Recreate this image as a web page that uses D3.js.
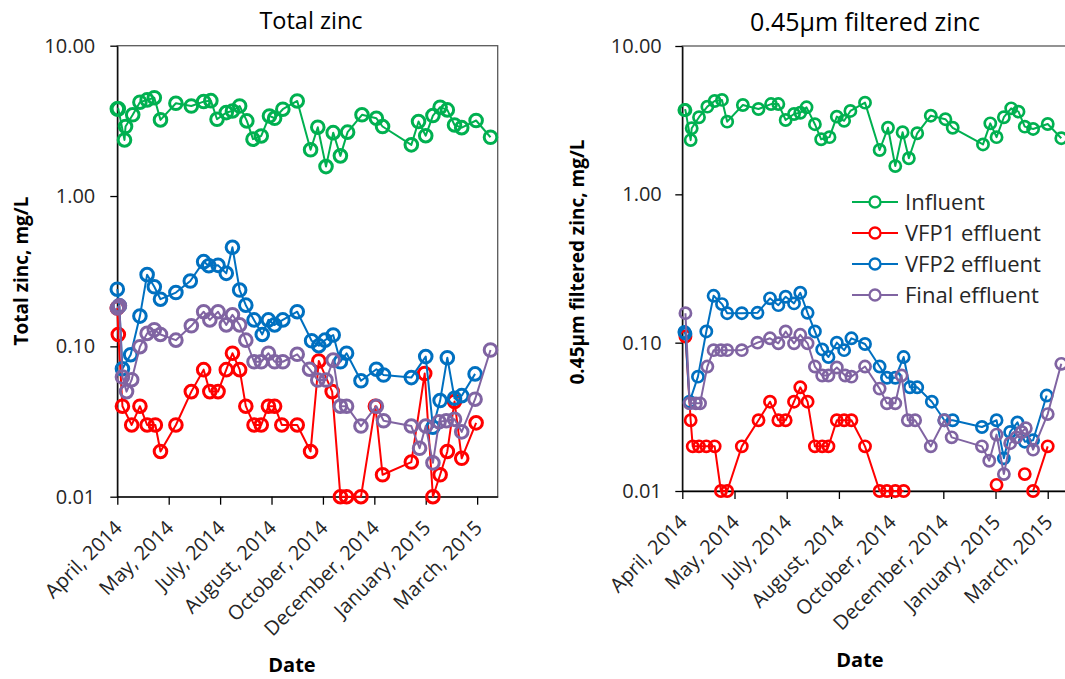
<!DOCTYPE html>
<html><head><meta charset="utf-8">
<script src="https://cdn.jsdelivr.net/npm/d3@7"></script>
<style>
body{margin:0;background:#fff;}
text{font-family:'Open Sans',sans-serif;}
</style>
</head><body>
<svg id="c" width="1065" height="679"></svg>
<script>
// ---- axis ticks ----
const tickDays = [0,50,100,150,200,250,300,350]; // days after 1 April 2014
const tickLabels = ["April, 2014","May, 2014","July, 2014","August, 2014","October, 2014","December, 2014","January, 2015","March, 2015"];
const yTicks = [0.01,0.1,1,10];
const seriesNames = ["Influent","VFP1 effluent","VFP2 effluent","Final effluent"];
const seriesColors = ["#00B050","#FF0000","#0070C0","#8064A2"];

// ---- Total zinc (mg/L) ----
const tzInfluentDays = [0,1,7,8,15,22,29,36,42,57,72,84,91,97,106,112,119,126,132,140,148,153,161,175,188,195,203,210,217,224,238,252,258,286,293,300,307,314,321,328,335,349,363];
const tzInfluent = [3.80,3.80,2.36,2.90,3.47,4.21,4.36,4.51,3.21,4.14,3.97,4.25,4.31,3.24,3.59,3.68,3.97,3.16,2.39,2.51,3.41,3.29,3.78,4.29,2.03,2.87,1.57,2.64,1.85,2.66,3.47,3.29,2.90,2.19,3.13,2.52,3.43,3.90,3.74,2.97,2.85,3.18,2.46];
const tzVFP1Days = [0,1,5,14,22,29,37,42,57,72,84,90,98,106,112,119,125,133,140,147,153,160,175,188,196,209,217,223,237,251,258,286,299,307,314,321,328,335,349];
const tzVFP1 = [0.18,0.12,0.04,0.03,0.04,0.03,0.03,0.02,0.03,0.05,0.07,0.05,0.05,0.07,0.09,0.07,0.04,0.03,0.03,0.04,0.04,0.03,0.03,0.02,0.08,0.05,0.01,0.01,0.01,0.04,0.014,0.017,0.066,0.01,0.014,0.02,0.043,0.018,0.031];
const tzVFP2Days = [0,2,5,13,22,29,36,42,57,71,84,89,98,106,112,119,125,133,141,147,153,161,175,189,196,202,210,217,223,237,252,259,286,300,307,314,321,328,335,348];
const tzVFP2 = [0.24,0.186,0.071,0.088,0.159,0.30,0.249,0.206,0.228,0.272,0.366,0.344,0.346,0.306,0.456,0.237,0.188,0.150,0.120,0.150,0.139,0.150,0.170,0.109,0.101,0.110,0.119,0.079,0.090,0.059,0.0705,0.0645,0.062,0.0855,0.029,0.0436,0.084,0.0452,0.047,0.0656];
const tzFinalDays = [0,2,5,9,14,22,29,36,42,57,72,84,90,98,106,112,119,125,133,140,147,153,161,175,187,195,203,210,217,223,237,252,259,286,294,300,307,313,320,328,335,348,363];
const tzFinal = [0.18,0.186,0.0625,0.050,0.060,0.0995,0.122,0.129,0.120,0.110,0.137,0.170,0.150,0.170,0.139,0.162,0.139,0.110,0.079,0.079,0.090,0.079,0.079,0.0886,0.0705,0.0597,0.0597,0.081,0.040,0.040,0.0295,0.040,0.032,0.0295,0.021,0.0295,0.0168,0.0315,0.032,0.0327,0.027,0.0445,0.0946];

// ---- 0.45 um filtered zinc (mg/L); null = gap in the line ----
const fzInfluentDays = [2,3,8,9,16,24,31,38,43,58,73,85,92,99,107,113,119,127,133,141,148,155,161,175,189,197,204,211,217,225,238,252,259,288,295,301,308,315,322,328,336,350,363];
const fzInfluent = [3.70,3.70,2.32,2.79,3.31,3.90,4.26,4.33,3.09,4.00,3.76,4.06,4.06,3.17,3.48,3.55,3.86,2.97,2.35,2.43,3.34,3.13,3.65,4.15,1.99,2.81,1.55,2.62,1.75,2.58,3.39,3.21,2.81,2.17,3.01,2.43,3.31,3.80,3.61,2.86,2.76,2.98,2.39];
const fzVFP1Days = [3,8,10,16,23,31,37,43,57,73,84,92,99,107,113,120,127,134,140,148,155,162,175,189,196,204,212,250,301,315,328,332,336,350];
const fzVFP1 = [0.11,0.03,0.02,0.02,0.02,0.02,0.01,0.01,0.02,0.03,0.04,0.03,0.03,0.04,0.05,0.04,0.02,0.02,0.02,0.03,0.03,0.03,0.02,0.01,0.01,0.01,0.01,null,0.011,null,0.013,null,0.01,0.02];
const fzVFP2Days = [2,3,7,15,23,30,38,43,57,72,84,92,99,107,113,120,127,134,140,148,155,162,175,189,196,204,212,218,225,239,251,259,287,301,308,314,321,328,336,349];
const fzVFP2 = [0.118,0.115,0.040,0.059,0.119,0.207,0.182,0.158,0.158,0.159,0.199,0.179,0.204,0.184,0.217,0.159,0.119,0.090,0.080,0.100,0.089,0.107,0.098,0.069,0.058,0.058,0.080,0.050,0.050,0.040,0.030,0.030,0.027,0.030,0.0166,0.025,0.029,0.0215,0.022,0.044];
const fzFinalDays = [3,7,13,17,24,30,37,43,57,72,84,92,99,107,113,120,127,134,140,148,156,162,175,189,196,204,210,216,223,238,251,258,287,294,301,308,314,320,325,329,336,350,363];
const fzFinal = [0.158,0.039,0.039,0.039,0.069,0.089,0.089,0.089,0.089,0.100,0.107,0.099,0.119,0.099,0.113,0.099,0.069,0.060,0.060,0.068,0.060,0.059,0.069,0.049,0.039,0.039,0.060,0.030,0.030,0.020,0.030,0.023,0.020,0.016,0.024,0.013,0.021,0.023,0.025,0.0265,0.019,0.033,0.072];

const svg = d3.select("#c");
const zip = (ds, vs) => ds.map((d,i)=>({d:d, v:vs[i]}));
const TXT = "#262626";

function drawChart(cfg){
  const x = d3.scaleLinear().domain([0,370]).range([cfg.left, cfg.right]);
  const y = d3.scaleLog().domain([0.01,10]).range([cfg.bottom, cfg.top]);
  const g = svg.append("g");

  // plot frame
  g.append("rect").attr("x",cfg.left).attr("y",cfg.top)
    .attr("width",cfg.right-cfg.left).attr("height",cfg.bottom-cfg.top)
    .attr("fill","none").attr("stroke","#595959").attr("stroke-width",1.3);

  // y axis
  const ya = g.append("g").attr("transform",`translate(${cfg.left},0)`)
    .call(d3.axisLeft(y).tickValues(yTicks).tickSize(7).tickSizeOuter(0).tickPadding(cfg.yPad).tickFormat(d3.format(".2f")));
  ya.select(".domain").attr("stroke","#000").attr("stroke-width",1.3);
  ya.selectAll(".tick line").attr("stroke","#000").attr("stroke-width",1.3);
  ya.selectAll(".tick text").attr("font-size","20px").attr("fill",TXT).style("font-family","'Open Sans',sans-serif");

  // x axis
  const xa = g.append("g").attr("transform",`translate(0,${cfg.bottom})`)
    .call(d3.axisBottom(x).tickValues(tickDays).tickSize(8).tickSizeOuter(0).tickFormat((d,i)=>tickLabels[i]));
  xa.select(".domain").attr("stroke","#000").attr("stroke-width",1.3);
  xa.selectAll(".tick line").attr("stroke","#000").attr("stroke-width",1.3);
  xa.selectAll(".tick text").attr("font-size","20px").attr("fill",TXT)
    .style("font-family","'Open Sans',sans-serif")
    .attr("text-anchor","end").attr("x",-19).attr("y",20).attr("dy","0.35em")
    .attr("transform","rotate(-45)");

  // series
  const line = d3.line().defined(p=>p.v!=null).x(p=>x(p.d)).y(p=>y(p.v));
  cfg.series.forEach((s,i)=>{
    const pts = zip(s.days, s.vals);
    g.append("path").datum(pts).attr("d",line).attr("fill","none")
      .attr("stroke",seriesColors[i]).attr("stroke-width",2).attr("stroke-linejoin","round");
    g.append("g").selectAll("circle").data(pts.filter(p=>p.v!=null)).join("circle")
      .attr("cx",p=>x(p.d)).attr("cy",p=>y(p.v)).attr("r",cfg.r)
      .attr("fill","none").attr("stroke",seriesColors[i]).attr("stroke-width",cfg.sw);
  });

  // titles
  g.append("text").attr("x",cfg.titleX).attr("y",cfg.titleY).attr("text-anchor","middle")
    .attr("font-size",cfg.titleSize).attr("fill","#000").text(cfg.title);
  g.append("text").attr("transform",`translate(${cfg.yTitleX},${cfg.yTitleY}) rotate(-90)`)
    .attr("text-anchor","middle").attr("font-size","19px").attr("font-weight","bold").attr("fill","#000").text(cfg.yTitle);
  g.append("text").attr("x",cfg.dateX).attr("y",cfg.dateY).attr("text-anchor","middle")
    .attr("font-size","20px").attr("font-weight","bold").attr("fill","#000").text("Date");

  if(cfg.legend){
    const L = cfg.legend;
    seriesNames.forEach((n,i)=>{
      const yy = L.y + i*L.dy;
      const lg = g.append("g");
      lg.append("line").attr("x1",L.x).attr("x2",L.x+46).attr("y1",yy).attr("y2",yy)
        .attr("stroke",seriesColors[i]).attr("stroke-width",2);
      lg.append("circle").attr("cx",L.x+23).attr("cy",yy).attr("r",5.5)
        .attr("fill","#fff").attr("stroke",seriesColors[i]).attr("stroke-width",2.3);
      lg.append("text").attr("x",L.x+53).attr("y",yy).attr("dy","0.35em")
        .attr("font-size","22px").attr("fill",TXT).text(n);
    });
  }
}

drawChart({
  left:117.3, right:497.7, top:45.7, bottom:496.7, yPad:15, r:6.3, sw:3,
  title:"Total zinc", titleSize:"23.5px", titleX:311, titleY:29,
  yTitle:"Total zinc, mg/L", yTitleX:28, yTitleY:271,
  dateX:292, dateY:672,
  series:[
    {days:tzInfluentDays, vals:tzInfluent},
    {days:tzVFP1Days, vals:tzVFP1},
    {days:tzVFP2Days, vals:tzVFP2},
    {days:tzFinalDays, vals:tzFinal}
  ]
});

drawChart({
  left:682.3, right:1068.6, top:46, bottom:491, yPad:13.5, r:5.6, sw:2.7,
  title:"0.45\u00b5m filtered zinc", titleSize:"25px", titleX:865, titleY:31,
  yTitle:"0.45\u00b5m filtered zinc, mg/L", yTitleX:584, yTitleY:262,
  dateX:860, dateY:667,
  series:[
    {days:fzInfluentDays, vals:fzInfluent},
    {days:fzVFP1Days, vals:fzVFP1},
    {days:fzVFP2Days, vals:fzVFP2},
    {days:fzFinalDays, vals:fzFinal}
  ],
  legend:{x:852, y:202, dy:31}
});
</script>
</body></html>
